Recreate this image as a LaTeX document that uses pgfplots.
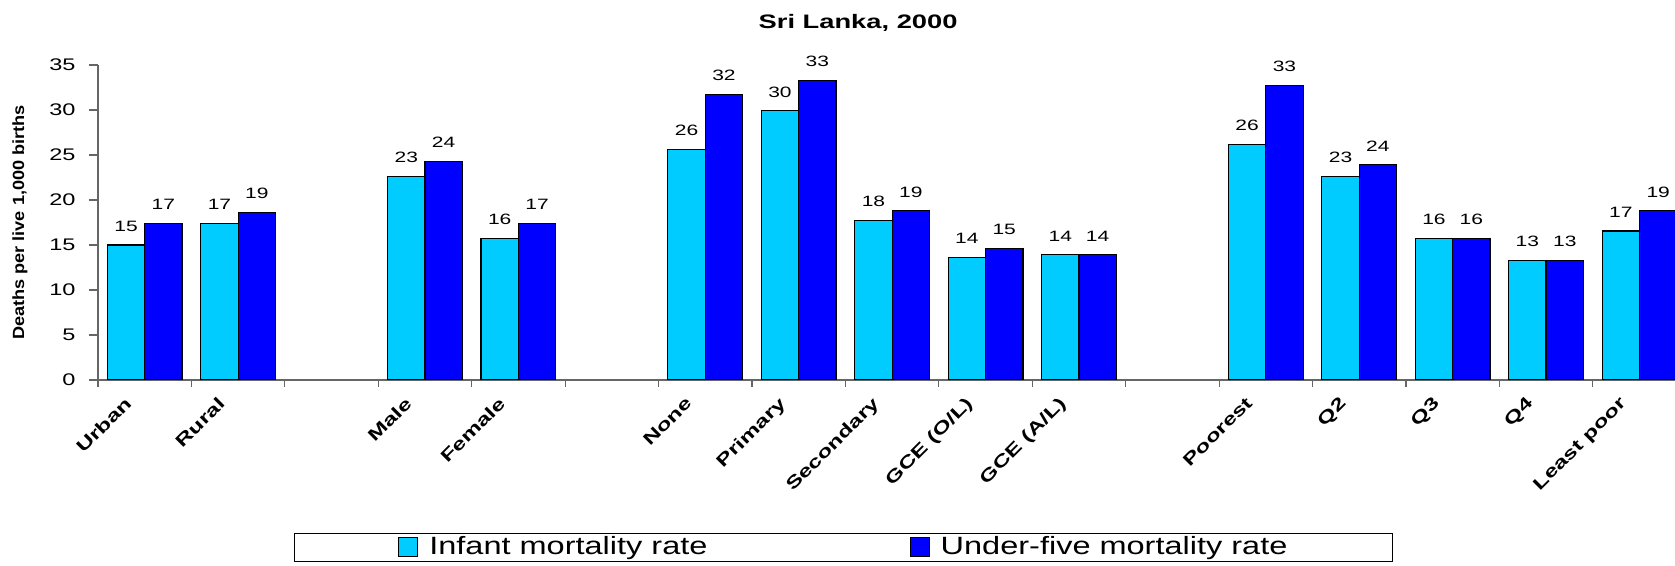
\documentclass[border=0pt]{standalone}
\usepackage{fontspec}
\setmainfont{Liberation Sans}
\newfontfamily\wide[FakeStretch=1.4]{Liberation Sans}
\newfontfamily\legf[FakeStretch=1.3]{Liberation Sans}
\newfontfamily\ylf[FakeStretch=1.12]{Liberation Sans}
\usepackage{pgfplots}
\pgfplotsset{compat=1.18}
\definecolor{ilight}{HTML}{00CCFF}
\definecolor{idark}{HTML}{0000FF}
\pgfplotsset{
 sqlegend/.style={legend image code/.code={\draw[##1,draw=black,line width=0.6pt] (0pt,-4.75pt) rectangle (9.5pt,4.75pt);}},
 sqlegendpad/.style={legend image code/.code={\path (-5pt,0pt); \draw[##1,draw=black,line width=0.6pt] (0pt,-4.75pt) rectangle (9.5pt,4.75pt);}}
}
\begin{document}
\begin{tikzpicture}
\begin{axis}[
 at={(0,0)}, anchor=south west,
 scale only axis, width=788.5pt, height=157.5pt,
 xmin=-0.5, xmax=16.38, ymin=0, ymax=35,
 ybar=0pt, bar width=0.4,
 axis x line=bottom, axis y line=left,
 axis line style={-, draw=gray!80!black, line width=0.6pt},
 tick style={draw=gray!80!black, line width=0.6pt},
 tick align=outside,
 ytick={0,5,...,35},
 major tick length=4.5pt,
 minor tick length=3.5pt,
 major x tick style={draw=none},
 xtick={0,1,3,4,6,7,8,9,10,12,13,14,15,16},
 xticklabels={Urban,Rural,Male,Female,None,Primary,Secondary,GCE (O/L),GCE (A/L),Poorest,Q2,Q3,Q4,Least poor},
 minor xtick={-0.5,0.5,...,15.5},
 /pgf/number format/assume math mode=true,
 yticklabel style={font=\wide\fontsize{8.4}{10}\selectfont, xshift=-3.2pt},
 xticklabel style={xshift=-10.5pt, yshift=-1.8pt, rotate=45, anchor=north east, inner sep=1pt, font=\wide\bfseries\fontsize{8.6}{10}\selectfont},
 title={Sri Lanka, 2000},
 title style={at={(axis description cs:0.482,1)}, anchor=center, yshift=15.25pt, font=\wide\bfseries\fontsize{9.75}{11}\selectfont},
 ylabel={Deaths per live 1,000 births},
 ylabel style={at={(axis description cs:-0.0495,0.5)}, anchor=center, font=\ylf\bfseries\fontsize{8.1}{9}\selectfont},
 nodes near coords={\pgfmathprintnumber[fixed,precision=0,assume math mode=true]{\pgfplotspointmeta}},
 every node near coord/.append style={font=\wide\fontsize{7.5}{9}\selectfont, anchor=south, inner sep=0pt, yshift=6.5pt, text=black},
 legend style={at={(axis description cs:0.124,-0.4857)}, anchor=north west, draw=black, line width=0.6pt, legend columns=2, inner xsep=47pt, inner ysep=0.6pt, font=\legf\fontsize{12.5}{14}\selectfont, /tikz/every even column/.append style={column sep=95.5pt}, nodes={inner xsep=5.5pt, inner ysep=1pt}},
]
\addplot[sqlegendpad, fill=ilight, draw=black, line width=0.6pt] coordinates {
 (0,15.0) (1,17.4) (3,22.6) (4,15.7) (6,25.6) (7,29.9) (8,17.7) (9,13.6) (10,13.9)
 (12,26.2) (13,22.6) (14,15.7) (15,13.3) (16,16.55)};
\addlegendentry{Infant mortality rate}
\addplot[sqlegend, fill=idark, draw=black, line width=0.6pt] coordinates {
 (0,17.4) (1,18.6) (3,24.3) (4,17.4) (6,31.7) (7,33.3) (8,18.8) (9,14.6) (10,13.9)
 (12,32.7) (13,23.9) (14,15.7) (15,13.3) (16,18.8)};
\addlegendentry{Under-five mortality rate}
\end{axis}
\pgfresetboundingbox
\useasboundingbox (-49pt,-93pt) rectangle (788.5pt,190pt);
\end{tikzpicture}
\end{document}
